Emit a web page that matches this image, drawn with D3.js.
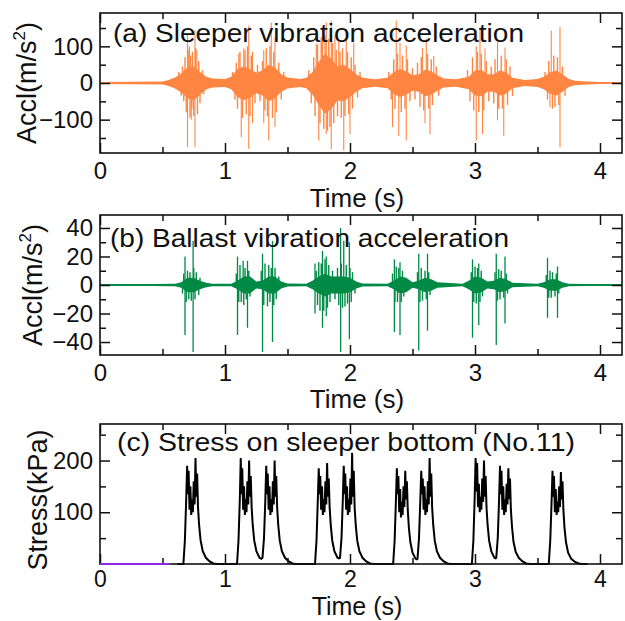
<!DOCTYPE html>
<html>
<head>
<meta charset="utf-8">
<script src="https://cdn.jsdelivr.net/npm/d3@7"></script>
<style>
  body { margin: 0; background: #fff; }
  svg text { font-family: "Liberation Sans", Arial, sans-serif; fill: #111; }
</style>
</head>
<body>
<svg id="chart" width="625" height="621"></svg>
<script>
// ---- data ----
var xTicks = [0, 1, 2, 3, 4];
var xMinor = [0.5, 1.5, 2.5, 3.5];

// (a) sleeper acceleration: envelope of the dense core + single spikes
var sleeperEnvT = [0,0.5,0.55,0.6,0.65,0.7,0.75,0.8,0.85,0.9,1.0,1.05,1.1,1.15,1.2,1.25,1.3,1.35,1.4,1.45,1.5,1.6,1.65,1.7,1.75,1.8,1.85,1.9,1.95,2.0,2.05,2.1,2.2,2.3,2.35,2.4,2.45,2.5,2.55,2.6,2.65,2.7,2.75,2.85,2.95,3.0,3.05,3.1,3.15,3.2,3.25,3.3,3.4,3.5,3.55,3.6,3.65,3.7,3.75,3.8,3.9,4.0,4.18];
var sleeperEnvHi = [3,4,8,15,26,42,45,30,17,12,11,17,38,45,38,28,34,50,42,24,15,11,14,30,58,80,66,46,50,38,24,14,10,14,30,38,32,21,24,36,32,21,12,10,17,34,36,24,24,34,29,14,8,11,17,29,34,24,11,6,4,3,3];
var sleeperEnvLo = [-3,-4,-8,-15,-26,-42,-47,-32,-17,-12,-11,-17,-38,-47,-40,-28,-34,-50,-42,-24,-15,-11,-14,-32,-60,-84,-70,-48,-50,-38,-24,-14,-10,-14,-30,-38,-32,-21,-24,-36,-32,-21,-12,-10,-17,-34,-36,-24,-24,-34,-29,-14,-8,-11,-17,-29,-34,-24,-11,-6,-4,-3,-3];
var sleeperSpikes = [
  [0.70,133],[0.715,100],[0.76,144],[0.775,90],[1.11,80],[1.15,95],[1.19,156],[1.22,85],[1.31,90],[1.37,165],[1.40,124],
  [1.73,107],[1.78,150],[1.81,165],[1.85,170],[1.88,130],[1.91,115],[1.97,120],[2.03,110],[2.37,170],[2.40,110],[2.45,102],
  [2.58,95],[2.61,120],[2.67,74],[3.01,100],[3.04,151],[3.08,95],[3.18,120],[3.24,97],[3.61,143],[3.68,153],
  [0.70,-175],[0.73,-100],[0.76,-175],[1.13,-148],[1.19,-180],[1.22,-110],[1.31,-110],[1.35,-157],[1.40,-120],
  [1.75,-157],[1.81,-139],[1.85,-180],[1.95,-184],[2.0,-139],[2.34,-120],[2.39,-144],[2.45,-157],[2.60,-110],[2.64,-139],
  [3.01,-157],[3.06,-139],[3.18,-102],[3.23,-144],[3.60,-66],[3.68,-175]
];
var sleeperSmall = [
  [0.63,30],[0.65,-35],[0.66,45],[0.67,-50],[0.68,70],[0.69,-80],[0.705,90],[0.72,-95],[0.725,75],[0.735,-70],[0.74,85],[0.75,-90],[0.765,95],[0.78,-85],[0.79,60],[0.80,-55],[0.82,35],[0.83,-30],
  [1.06,30],[1.08,-45],[1.09,55],[1.10,-70],[1.12,85],[1.14,-95],[1.16,90],[1.17,-85],[1.18,100],[1.20,-90],[1.21,75],[1.24,-55],[1.26,50],[1.28,-50],[1.30,60],[1.32,-75],[1.33,95],[1.34,-90],[1.36,100],[1.38,-95],[1.39,85],[1.41,-80],[1.43,55],[1.45,-45],[1.47,30],
  [1.67,35],[1.69,-55],[1.71,70],[1.72,-90],[1.74,105],[1.76,-110],[1.77,125],[1.79,-125],[1.80,130],[1.82,-130],[1.83,120],[1.84,-120],[1.86,110],[1.87,-110],[1.89,90],[1.90,-90],[1.92,85],[1.93,-95],[1.94,95],[1.96,-90],[1.98,85],[1.99,-85],[2.01,70],[2.02,-70],[2.04,50],[2.06,-40],[2.08,30],
  [2.31,30],[2.33,-45],[2.35,65],[2.36,-70],[2.38,80],[2.41,-80],[2.42,75],[2.44,-70],[2.46,65],[2.48,-50],[2.50,40],[2.52,-45],[2.54,55],[2.56,-65],[2.57,70],[2.59,-75],[2.62,80],[2.63,-70],[2.65,65],[2.66,-60],[2.69,45],[2.71,-35],
  [2.94,35],[2.96,-50],[2.98,70],[2.99,-75],[3.02,85],[3.03,-80],[3.05,80],[3.07,-75],[3.09,60],[3.11,-50],[3.13,45],[3.15,-55],[3.16,65],[3.19,-70],[3.21,75],[3.22,-70],[3.25,65],[3.26,-60],[3.28,45],[3.30,-35],
  [3.56,30],[3.58,-45],[3.59,60],[3.62,-70],[3.63,75],[3.64,-65],[3.66,70],[3.67,-60],[3.70,45],[3.72,-35]
];

// (b) ballast acceleration
var ballastEnvT = [0,0.6,0.65,0.7,0.75,0.8,0.85,0.9,1.05,1.1,1.15,1.2,1.25,1.3,1.35,1.4,1.45,1.5,1.65,1.7,1.75,1.8,1.85,1.9,1.95,2.0,2.05,2.1,2.3,2.35,2.4,2.45,2.5,2.55,2.6,2.65,2.7,2.9,2.95,3.0,3.05,3.1,3.15,3.2,3.25,3.3,3.5,3.55,3.6,3.65,3.7,3.75,4.18];
var ballastEnvAmp = [0.4,0.8,2,5,5,3,1.5,0.8,0.8,3,6,6,2.5,3,6,6,2.5,1,0.8,3,6,8,6,6,6,5,2.5,1,0.8,3,6,5,2,3,5,4,2,0.8,3,6,5,2.5,3,5,4,1.5,0.8,2,4,4,2,0.8,0.4];
var ballastSpikes = [
  [0.68,20],[0.745,31],[1.10,20],[1.145,17],[1.18,17],[1.30,22],[1.38,31],[1.72,15],[1.78,24],[1.81,20],[1.925,40],
  [1.95,31],[1.995,30],[2.355,18],[2.40,16],[2.55,22],[2.62,22],[2.98,18],[3.03,15],[3.17,22],[3.24,20],[3.58,19],[3.66,13],
  [0.68,-35],[0.745,-47],[1.10,-35],[1.18,-30],[1.30,-47],[1.38,-40],[1.72,-20],[1.78,-30],[1.81,-22],[1.925,-47],
  [1.995,-38],[2.355,-33],[2.40,-35],[2.55,-46],[2.62,-32],[2.98,-37],[3.03,-28],[3.17,-42],[3.24,-27],[3.58,-23],[3.66,-23]
];
var ballastSmall = [
  [0.66,-6],[0.67,8],[0.69,-12],[0.70,10],[0.71,-10],[0.72,9],[0.73,-11],[0.75,12],[0.76,-10],[0.77,9],[0.79,-7],[0.80,5],
  [1.09,8],[1.11,-12],[1.12,14],[1.13,-12],[1.15,-14],[1.16,12],[1.17,-10],[1.19,10],[1.20,-8],[1.29,10],[1.31,-14],[1.32,15],[1.34,-15],[1.35,14],[1.36,-12],[1.37,12],[1.39,-14],[1.40,12],[1.41,-10],[1.43,6],
  [1.73,10],[1.74,-14],[1.75,16],[1.76,-18],[1.77,15],[1.79,-18],[1.80,18],[1.82,-16],[1.83,14],[1.84,-12],[1.86,10],[1.88,-10],[1.90,12],[1.91,-14],[1.93,15],[1.94,-16],[1.96,-15],[1.97,14],[1.98,-13],[2.00,12],[2.01,-12],[2.02,9],[2.04,-6],
  [2.34,8],[2.36,-12],[2.37,13],[2.38,-12],[2.39,12],[2.41,-12],[2.42,10],[2.43,-8],[2.54,9],[2.56,-12],[2.57,12],[2.58,-11],[2.60,10],[2.61,-10],[2.63,9],[2.64,-7],
  [2.97,9],[2.99,-12],[3.00,13],[3.01,-13],[3.02,12],[3.04,-12],[3.05,10],[3.06,-8],[3.16,9],[3.18,-11],[3.19,11],[3.20,-10],[3.21,10],[3.23,-9],[3.25,8],[3.26,-6],
  [3.57,7],[3.59,-9],[3.60,10],[3.61,-9],[3.62,9],[3.64,-8],[3.65,8],[3.67,-6]
];

// (c) stress on sleeper bottom
var stressLead = [[0,0],[0.56,0]];
var stress = [
  [0.62,0],
  [0.667,0],[0.679,45],[0.689,120],[0.697,190],[0.703,135],[0.709,180],[0.716,105],[0.723,150],[0.730,95],[0.737,125],[0.743,100],[0.750,160],[0.757,115],[0.764,205],[0.770,130],[0.777,175],[0.784,110],[0.793,75],[0.805,45],[0.822,25],[0.847,12],[0.877,5],[0.907,1],[0.937,0],
  [1.096,0],[1.108,45],[1.118,120],[1.126,205],[1.132,135],[1.138,185],[1.145,105],[1.152,150],[1.159,95],[1.166,125],[1.172,100],[1.179,160],[1.186,115],[1.193,200],[1.199,130],[1.206,170],[1.213,110],[1.222,75],[1.234,45],[1.251,25],[1.276,12],[1.290,10],
  [1.300,12],[1.312,50],[1.322,120],[1.330,190],[1.336,135],[1.342,175],[1.349,105],[1.356,150],[1.363,95],[1.370,125],[1.376,100],[1.383,160],[1.390,115],[1.397,200],[1.403,130],[1.410,170],[1.417,110],[1.426,75],[1.438,45],[1.455,25],[1.480,12],[1.510,5],[1.540,1],[1.570,0],
  [1.720,0],[1.732,45],[1.742,120],[1.750,185],[1.756,135],[1.762,170],[1.769,105],[1.776,150],[1.783,95],[1.790,125],[1.796,100],[1.803,160],[1.810,115],[1.817,195],[1.823,130],[1.830,165],[1.837,110],[1.846,75],[1.858,45],[1.875,25],[1.900,12],[1.912,11],
  [1.920,12],[1.932,50],[1.942,120],[1.950,190],[1.956,135],[1.962,175],[1.969,105],[1.976,150],[1.983,95],[1.990,125],[1.996,100],[2.003,165],[2.010,115],[2.017,215],[2.023,130],[2.030,180],[2.037,110],[2.046,75],[2.058,45],[2.075,25],[2.100,12],[2.130,5],[2.160,1],[2.190,0],
  [2.345,0],[2.357,45],[2.367,120],[2.375,185],[2.381,135],[2.387,170],[2.394,100],[2.401,145],[2.408,90],[2.415,120],[2.421,95],[2.428,150],[2.435,110],[2.442,180],[2.448,125],[2.455,160],[2.462,105],[2.471,70],[2.483,42],[2.500,22],[2.525,10],[2.535,9],
  [2.540,10],[2.552,50],[2.562,120],[2.570,180],[2.576,135],[2.582,165],[2.589,105],[2.596,150],[2.603,95],[2.610,125],[2.616,100],[2.623,160],[2.630,115],[2.637,205],[2.643,130],[2.650,175],[2.657,110],[2.666,75],[2.678,45],[2.695,25],[2.720,12],[2.750,5],[2.780,1],[2.810,0],
  [2.975,0],[2.987,45],[2.997,125],[3.005,205],[3.011,140],[3.017,195],[3.024,110],[3.031,155],[3.038,100],[3.045,130],[3.051,105],[3.058,165],[3.065,120],[3.072,200],[3.078,130],[3.085,170],[3.092,110],[3.101,75],[3.113,45],[3.130,25],[3.155,12],[3.165,11],
  [3.170,12],[3.182,50],[3.192,120],[3.200,190],[3.206,135],[3.212,180],[3.219,105],[3.226,150],[3.233,95],[3.240,125],[3.246,100],[3.253,155],[3.260,115],[3.267,185],[3.273,125],[3.280,165],[3.287,105],[3.296,72],[3.308,43],[3.325,24],[3.350,12],[3.380,5],[3.410,1],[3.440,0],
  [3.590,0],[3.602,45],[3.612,115],[3.620,180],[3.626,130],[3.632,170],[3.639,100],[3.646,145],[3.653,95],[3.660,120],[3.666,100],[3.673,150],[3.680,110],[3.687,178],[3.693,125],[3.700,160],[3.707,105],[3.716,70],[3.728,42],[3.745,22],[3.770,10],[3.800,4],[3.830,1],[3.860,0],
  [3.900,0]
];

// ---- layout ----
var left = 100, plotW = 522, plotH = 140;
var orange = "#ff8642", green = "#008a45";
var svg = d3.select("#chart");

var x = d3.scaleLinear().domain([0, 4.176]).range([0, plotW]);

function makePanel(top, yDomain, id) {
  var g = svg.append("g").attr("transform", `translate(${left}, ${top})`);
  var y = d3.scaleLinear().domain(yDomain).range([plotH, 0]);

  g.append("clipPath").attr("id", id)
    .append("rect").attr("width", plotW).attr("height", plotH);

  var plot = g.append("g").attr("clip-path", `url(#${id})`);
  return { g: g, y: y, plot: plot };
}

// opt: timeY (baseline of "Time (s)"), pad (x tick padding), xfs / tfs font sizes
function drawAxes(p, yMajor, yMinor, opt) {
  var g = p.g, y = p.y;
  var style = function(fs) {
    return function(sel) {
      sel.attr("font-family", null).attr("font-size", null);
      sel.select(".domain").remove();
      sel.selectAll(".tick line").attr("stroke", "#111").attr("stroke-width", 1.5);
      sel.selectAll("text").style("font-size", fs + "px");
    };
  };
  g.append("g").attr("transform", `translate(0, ${plotH})`)
    .call(d3.axisBottom(x).tickValues(xTicks).tickSize(-10).tickPadding(opt.pad).tickFormat(d3.format("d"))).call(style(opt.xfs));
  g.append("g").attr("transform", `translate(0, ${plotH})`)
    .call(d3.axisBottom(x).tickValues(xMinor).tickSize(-6).tickFormat("")).call(style(24));
  g.append("g").call(d3.axisTop(x).tickValues(xTicks).tickSize(-10).tickFormat("")).call(style(24));
  g.append("g").call(d3.axisTop(x).tickValues(xMinor).tickSize(-6).tickFormat("")).call(style(24));

  g.append("g").call(d3.axisLeft(y).tickValues(yMajor).tickSize(-10).tickPadding(7).tickFormat(d3.format("d"))).call(style(24));
  g.append("g").call(d3.axisLeft(y).tickValues(yMinor).tickSize(-6).tickFormat("")).call(style(24));
  g.append("g").attr("transform", `translate(${plotW}, 0)`)
    .call(d3.axisRight(y).tickValues(yMajor).tickSize(-10).tickFormat("")).call(style(24));
  g.append("g").attr("transform", `translate(${plotW}, 0)`)
    .call(d3.axisRight(y).tickValues(yMinor).tickSize(-6).tickFormat("")).call(style(24));

  g.append("rect").attr("width", plotW).attr("height", plotH)
    .attr("fill", "none").attr("stroke", "#111").attr("stroke-width", 1.6);

  g.append("text").attr("x", x(2) + 7).attr("y", plotH + opt.timeY)
    .attr("text-anchor", "middle").style("font-size", opt.tfs + "px").text("Time (s)");
}

function title(p, str, dx, base, len) {
  p.g.append("text").attr("x", dx).attr("y", base)
    .attr("textLength", len).attr("lengthAdjust", "spacingAndGlyphs")
    .style("font-size", "25px").text(str);
}

function accLabel(p, bx) {
  var t = p.g.append("text")
    .attr("transform", `translate(${bx - left}, ${plotH / 2}) rotate(-90)`)
    .attr("text-anchor", "middle").style("font-size", "27px");
  t.append("tspan").text("Accl(m/s");
  t.append("tspan").attr("dy", -11).style("font-size", "17px").text("2");
  t.append("tspan").attr("dy", 11).text(")");
}

function spikes(p, data, color, w) {
  p.plot.append("g").selectAll("line").data(data).enter().append("line")
    .attr("x1", d => x(d[0])).attr("x2", d => x(d[0]))
    .attr("y1", p.y(0)).attr("y2", d => p.y(d[1]))
    .attr("stroke", color).attr("stroke-width", w);
}

// ---- (a) sleeper ----
var pa = makePanel(13, [-191, 191], "clipA");
var envA = d3.range(sleeperEnvT.length).map(i => [sleeperEnvT[i], sleeperEnvHi[i], sleeperEnvLo[i]]);
pa.plot.append("path").datum(envA)
  .attr("fill", orange)
  .attr("d", d3.area().x(d => x(d[0])).y0(d => pa.y(d[2])).y1(d => pa.y(d[1])));
spikes(pa, sleeperSmall, orange, 1.4);
spikes(pa, sleeperSpikes, orange, 1.1);
pa.plot.append("line").attr("x1", 0).attr("x2", plotW).attr("y1", pa.y(0)).attr("y2", pa.y(0))
  .attr("stroke", orange).attr("stroke-width", 2);
drawAxes(pa, [-100, 0, 100], [-150, -50, 50, 150], { timeY: 54, pad: 9, xfs: 24, tfs: 26 });
title(pa, "(a) Sleeper vibration acceleration", 13, 29, 411);
accLabel(pa, 36);

// ---- (b) ballast ----
var pb = makePanel(215, [-49.1, 49.1], "clipB");
var envB = d3.range(ballastEnvT.length).map(i => [ballastEnvT[i], ballastEnvAmp[i]]);
pb.plot.append("path").datum(envB)
  .attr("fill", green)
  .attr("d", d3.area().x(d => x(d[0])).y0(d => pb.y(-d[1])).y1(d => pb.y(d[1])));
spikes(pb, ballastSmall, green, 1.4);
spikes(pb, ballastSpikes, green, 1.3);
pb.plot.append("line").attr("x1", 0).attr("x2", plotW).attr("y1", pb.y(0)).attr("y2", pb.y(0))
  .attr("stroke", green).attr("stroke-width", 2.2);
drawAxes(pb, [-40, -20, 0, 20, 40], [-30, -10, 10, 30], { timeY: 53, pad: 9, xfs: 24, tfs: 26 });
title(pb, "(b) Ballast vibration acceleration", 10, 32, 399);
accLabel(pb, 42);

// ---- (c) stress ----
var pc = makePanel(424, [0, 270.6], "clipC");
var line = d3.line().x(d => x(d[0])).y(d => pc.y(d[1]));
pc.g.append("path").datum(stress)
  .attr("fill", "none").attr("stroke", "#000").attr("stroke-width", 2).attr("d", line);
drawAxes(pc, [100, 200], [50, 150, 250], { timeY: 51, pad: 7, xfs: 23, tfs: 25 });
pc.g.append("path").datum(stressLead)
  .attr("fill", "none").attr("stroke", "#8a2be2").attr("stroke-width", 2).attr("d", line);
title(pc, "(c) Stress on sleeper bottom (No.11)", 17, 27, 458);
pc.g.append("text")
  .attr("transform", `translate(${47 - left}, ${plotH / 2 + 6}) rotate(-90)`)
  .attr("text-anchor", "middle").style("font-size", "27px").text("Stress(kPa)");
</script>
</body>
</html>
